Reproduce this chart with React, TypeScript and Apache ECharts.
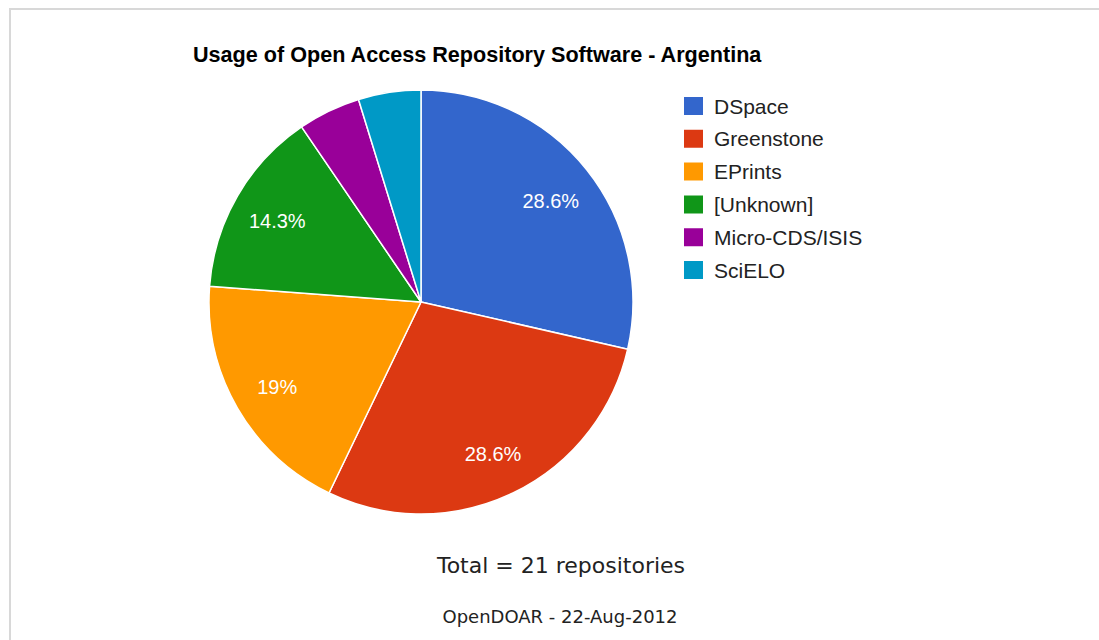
import React, { useEffect, useRef } from 'react';
import * as echarts from 'echarts';

const categories = ['DSpace', 'Greenstone', 'EPrints', '[Unknown]', 'Micro-CDS/ISIS', 'SciELO'];
const counts = [6, 6, 4, 3, 1, 1];
const colors = ['#3366cc', '#dc3912', '#ff9900', '#109618', '#990099', '#0099c6'];
const titleText = 'Usage of Open Access Repository Software - Argentina';
const sourceText = 'OpenDOAR - 22-Aug-2012';

const SANS = '"Liberation Sans", Arial, sans-serif';
const WIDE = '"DejaVu Sans", sans-serif';

export default function App() {
  const ref = useRef<HTMLDivElement>(null);
  useEffect(() => {
    const chart = echarts.init(ref.current as HTMLDivElement, null, { renderer: 'svg' });
    const total = counts.reduce((a, b) => a + b, 0);
    const data = categories.map((name, i) => ({ name, value: counts[i] }));
    const fmt = (p: any) => {
      const pct = (p.value / total) * 100;
      return pct < 5 ? '' : `${Math.round(pct * 10) / 10}%`;
    };
    chart.setOption({
      animation: false,
      color: colors,
      title: {
        text: titleText,
        left: 193,
        top: 43,
        padding: 0,
        textStyle: { fontFamily: SANS, fontWeight: 'bold', fontSize: 21.6, color: '#000' },
      },
      legend: {
        orient: 'vertical',
        left: 682,
        top: 95,
        padding: 0,
        icon: 'rect',
        itemWidth: 21,
        itemHeight: 20,
        itemGap: 10.8,
        data: categories,
        textStyle: { fontFamily: SANS, fontSize: 21, color: '#222', lineHeight: 20, padding: [0, 0, 0, 5] },
      },
      series: [
        {
          type: 'pie',
          center: [421, 302],
          radius: 212,
          startAngle: 90,
          clockwise: true,
          data,
          label: { show: false },
          labelLine: { show: false },
          itemStyle: { borderColor: '#fff', borderWidth: 1.5 },
          emphasis: { disabled: true },
          silent: true,
        },
        {
          type: 'pie',
          center: [421, 304],
          radius: [114, 212],
          startAngle: 90,
          clockwise: true,
          data,
          itemStyle: { color: 'rgba(0,0,0,0)', borderWidth: 0 },
          label: {
            show: true,
            position: 'inside',
            formatter: fmt,
            color: '#fff',
            fontSize: 20,
            fontFamily: SANS,
          },
          labelLine: { show: false },
          emphasis: { disabled: true },
          legendHoverLink: false,
          silent: true,
          z: 3,
        },
      ],
      graphic: [
        {
          type: 'rect',
          z: -10,
          silent: true,
          shape: { x: 10, y: 9, width: 1300, height: 900 },
          style: { fill: 'none', stroke: '#d8d8d8', lineWidth: 2 },
        },
        {
          type: 'text',
          x: 561,
          y: 565,
          silent: true,
          style: {
            text: `Total = ${total} repositories`,
            fontFamily: WIDE,
            fontSize: 22,
            fill: '#222',
            align: 'center',
            verticalAlign: 'middle',
            textAlign: 'center',
            textVerticalAlign: 'middle',
          },
        },
        {
          type: 'text',
          x: 560,
          y: 616,
          silent: true,
          style: {
            text: sourceText,
            fontFamily: WIDE,
            fontSize: 18,
            fill: '#222',
            align: 'center',
            verticalAlign: 'middle',
            textAlign: 'center',
            textVerticalAlign: 'middle',
          },
        },
      ],
    });
    return () => chart.dispose();
  }, []);
  return <div ref={ref} style={{ position: 'fixed', left: 0, top: 0, width: 1099, height: 640, background: '#fff' }} />;
}
